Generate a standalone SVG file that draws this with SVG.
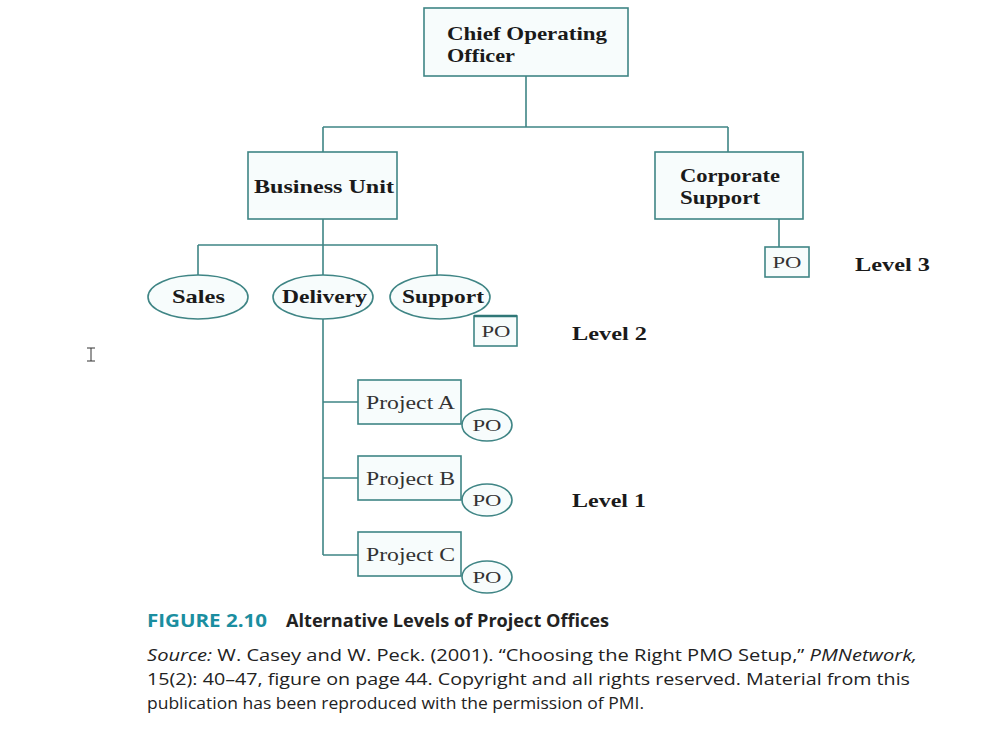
<svg xmlns="http://www.w3.org/2000/svg" width="991" height="748" viewBox="0 0 991 748">
<style>
.box{fill:#f7fcfc;stroke:#3f8585;stroke-width:1.6}
.ln{fill:none;stroke:#3f8585;stroke-width:1.6}
.b{font-family:"Liberation Serif",serif;font-weight:bold;font-size:19px;fill:#1a1a1a}
.r{font-family:"Liberation Serif",serif;font-size:18px;fill:#333}
.po{font-family:"Liberation Serif",serif;font-size:17px;fill:#333}
.cap{font-family:"Open Sans","Liberation Sans",sans-serif;font-size:17px;fill:#222}
</style>
<rect width="991" height="748" fill="#fff"/>
<g id="connectors">
<path class="ln" d="M526,76V127M323,127H728M323,127V152M728,127V152"/>
<path class="ln" d="M323,219V245M198,245H437M198,245V275M323,245V275M437,245V276"/>
<path class="ln" d="M779,219V247"/>
<path class="ln" d="M323,319V555M323,402H358M323,478H358M323,555H358"/>
</g>
<g id="coo"><rect class="box" x="424" y="8" width="204" height="68"/><text class="b" x="447" y="40" textLength="160" lengthAdjust="spacingAndGlyphs">Chief Operating</text><text class="b" x="447" y="62" textLength="68" lengthAdjust="spacingAndGlyphs">Officer</text></g>
<g id="business-unit"><rect class="box" x="248" y="152" width="149" height="67"/><text class="b" x="254" y="193" textLength="140" lengthAdjust="spacingAndGlyphs">Business Unit</text></g>
<g id="corporate-support"><rect class="box" x="655" y="152" width="148" height="67"/><text class="b" x="680" y="182" textLength="100" lengthAdjust="spacingAndGlyphs">Corporate</text><text class="b" x="680" y="204" textLength="80" lengthAdjust="spacingAndGlyphs">Support</text></g>
<g id="po-level3"><rect class="box" x="765" y="247" width="44" height="30"/><text class="po" x="787" y="268" text-anchor="middle" textLength="29" lengthAdjust="spacingAndGlyphs">PO</text></g>
<g id="level3"><text class="b" x="855" y="271" textLength="75" lengthAdjust="spacingAndGlyphs">Level 3</text></g>
<g id="sales"><ellipse class="box" cx="198" cy="297" rx="50" ry="22"/><text class="b" x="172" y="303" textLength="53" lengthAdjust="spacingAndGlyphs">Sales</text></g>
<g id="delivery"><ellipse class="box" cx="323" cy="297" rx="50" ry="22"/><text class="b" x="282" y="303" textLength="85" lengthAdjust="spacingAndGlyphs">Delivery</text></g>
<g id="support"><ellipse class="box" cx="440" cy="297" rx="50" ry="22"/><text class="b" x="402" y="303" textLength="82" lengthAdjust="spacingAndGlyphs">Support</text></g>
<g id="po-level2"><rect class="box" x="474" y="316" width="43" height="30"/><path d="M474,316H517" stroke="#2f7777" stroke-width="2.5"/><text class="po" x="496" y="337" text-anchor="middle" textLength="29" lengthAdjust="spacingAndGlyphs">PO</text></g>
<g id="level2"><text class="b" x="572" y="340" textLength="75" lengthAdjust="spacingAndGlyphs">Level 2</text></g>
<g id="project-a"><rect class="box" x="358" y="380" width="103" height="44"/><text class="r" x="366" y="409" textLength="89" lengthAdjust="spacingAndGlyphs">Project A</text></g>
<g id="po-a"><ellipse class="box" cx="487" cy="425" rx="25" ry="16"/><text class="po" x="487" y="431" text-anchor="middle" textLength="29" lengthAdjust="spacingAndGlyphs">PO</text></g>
<g id="project-b"><rect class="box" x="358" y="456" width="103" height="44"/><text class="r" x="366" y="485" textLength="89" lengthAdjust="spacingAndGlyphs">Project B</text></g>
<g id="po-b"><ellipse class="box" cx="487" cy="500" rx="25" ry="16"/><text class="po" x="487" y="506" text-anchor="middle" textLength="29" lengthAdjust="spacingAndGlyphs">PO</text></g>
<g id="project-c"><rect class="box" x="358" y="532" width="103" height="44"/><text class="r" x="366" y="561" textLength="89" lengthAdjust="spacingAndGlyphs">Project C</text></g>
<g id="po-c"><ellipse class="box" cx="487" cy="577" rx="25" ry="16"/><text class="po" x="487" y="583" text-anchor="middle" textLength="29" lengthAdjust="spacingAndGlyphs">PO</text></g>
<g id="level1"><text class="b" x="572" y="507" textLength="74" lengthAdjust="spacingAndGlyphs">Level 1</text></g>
<path d="M87,348H95M91,348V361M87,361H95" stroke="#333" stroke-width="1" fill="none"/>
<g id="caption">
<text class="cap" x="147" y="627" font-weight="bold" font-size="18"><tspan fill="#1b8ea0" textLength="120" lengthAdjust="spacingAndGlyphs">FIGURE 2.10</tspan></text>
<text class="cap" x="286" y="627" font-weight="bold" font-size="18" textLength="323" lengthAdjust="spacingAndGlyphs">Alternative Levels of Project Offices</text>
<text class="cap" x="147" y="661" font-size="18" textLength="770" lengthAdjust="spacingAndGlyphs"><tspan font-style="italic">Source:</tspan> W. Casey and W. Peck. (2001). “Choosing the Right PMO Setup,” <tspan font-style="italic">PMNetwork,</tspan></text>
<text class="cap" x="147" y="685" font-size="18" textLength="763" lengthAdjust="spacingAndGlyphs">15(2): 40–47, figure on page 44. Copyright and all rights reserved. Material from this</text>
<text class="cap" x="147" y="709" font-size="18" textLength="497" lengthAdjust="spacingAndGlyphs">publication has been reproduced with the permission of PMI.</text>
</g>
</svg>
